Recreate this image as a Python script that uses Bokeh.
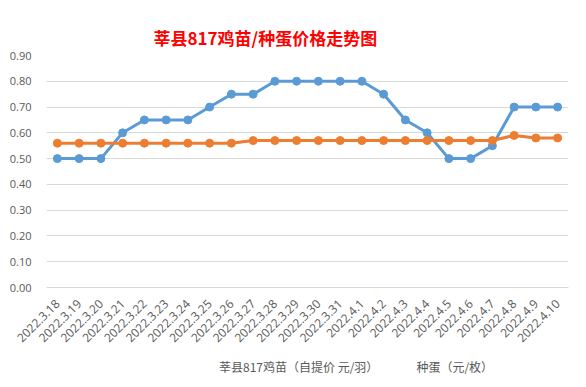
from math import pi
from bokeh.plotting import figure
from bokeh.layouts import column
from bokeh.models import FactorRange, Range1d, Legend, LegendItem, NumeralTickFormatter, FixedTicker
from bokeh.embed import file_html
from bokeh.resources import INLINE

dates = ["2022.3.18", "2022.3.19", "2022.3.20", "2022.3.21", "2022.3.22", "2022.3.23",
         "2022.3.24", "2022.3.25", "2022.3.26", "2022.3.27", "2022.3.28", "2022.3.29",
         "2022.3.30", "2022.3.31", "2022.4.1", "2022.4.2", "2022.4.3", "2022.4.4",
         "2022.4.5", "2022.4.6", "2022.4.7", "2022.4.8", "2022.4.9", "2022.4.10"]
chick = [0.50, 0.50, 0.50, 0.60, 0.65, 0.65, 0.65, 0.70, 0.75, 0.75, 0.80, 0.80,
         0.80, 0.80, 0.80, 0.75, 0.65, 0.60, 0.50, 0.50, 0.55, 0.70, 0.70, 0.70]
egg = [0.56, 0.56, 0.56, 0.56, 0.56, 0.56, 0.56, 0.56, 0.56, 0.57, 0.57, 0.57,
       0.57, 0.57, 0.57, 0.57, 0.57, 0.57, 0.57, 0.57, 0.57, 0.59, 0.58, 0.58]
y_ticks = [0.0, 0.1, 0.2, 0.3, 0.4, 0.5, 0.6, 0.7, 0.8, 0.9]
title_text = "莘县817鸡苗/种蛋价格走势图"
chick_label = "莘县817鸡苗（自提价 元/羽）"
egg_label = "种蛋（元/枚）"

BLUE = "#5B9BD5"
ORANGE = "#ED7D31"
GRAY = "#595959"
FONT = "Noto Sans CJK SC"
NUMFONT = "Open Sans"

p = figure(width=578, height=352,
           x_range=FactorRange(*dates), y_range=Range1d(0, 0.9),
           output_backend="svg", toolbar_location=None,
           min_border_left=46, min_border_right=10, min_border_top=55, min_border_bottom=65)

p.title.text = title_text
p.title.align = "left"
p.title.offset = 107
p.title.text_color = "#FF0000"
p.title.text_font = FONT
p.title.text_font_size = "17px"
p.title.text_font_style = "bold"
p.title.standoff = 12

p.outline_line_color = None
p.background_fill_color = "white"
p.border_fill_color = "white"

p.xgrid.grid_line_color = None
p.ygrid.grid_line_color = "#D9D9D9"
p.ygrid.grid_line_width = 1

p.yaxis.ticker = FixedTicker(ticks=y_ticks)
p.yaxis.formatter = NumeralTickFormatter(format="0.00")
p.yaxis.axis_line_color = None
p.yaxis.major_tick_line_color = None
p.yaxis.minor_tick_line_color = None
p.yaxis.major_label_text_color = GRAY
p.yaxis.major_label_text_font = NUMFONT
p.yaxis.major_label_text_font_size = "11px"
p.yaxis.major_label_standoff = 9

p.xaxis.axis_line_color = "#D9D9D9"
p.xaxis.major_tick_line_color = None
p.xaxis.minor_tick_line_color = None
p.xaxis.major_label_orientation = pi / 4
p.xaxis.major_label_text_color = GRAY
p.xaxis.major_label_text_font = NUMFONT
p.xaxis.major_label_text_font_size = "12px"
p.xaxis.major_label_standoff = 8

p.line(dates, chick, line_color=BLUE, line_width=3)
p.scatter(dates, chick, size=8, fill_color=BLUE, line_color=BLUE)
p.line(dates, egg, line_color=ORANGE, line_width=3)
p.scatter(dates, egg, size=8, fill_color=ORANGE, line_color=ORANGE)

# legend strip below the chart
lg = figure(width=578, height=25, x_range=Range1d(0, 1), y_range=Range1d(0, 1),
            x_axis_type=None, y_axis_type=None,
            output_backend="svg", toolbar_location=None,
            min_border_left=0, min_border_right=0, min_border_top=0, min_border_bottom=0)
lg.outline_line_color = None
lg.xgrid.grid_line_color = None
lg.ygrid.grid_line_color = None
lg.background_fill_color = "white"
lg.border_fill_color = "white"
k1 = lg.line(x=[], y=[], line_color=BLUE, line_width=3)
k2 = lg.scatter(x=[], y=[], size=8, fill_color=BLUE, line_color=BLUE)
k3 = lg.line(x=[], y=[], line_color=ORANGE, line_width=3)
k4 = lg.scatter(x=[], y=[], size=8, fill_color=ORANGE, line_color=ORANGE)

legend = Legend(items=[LegendItem(label=chick_label, renderers=[k1, k2]),
                       LegendItem(label=egg_label, renderers=[k3, k4])],
                orientation="horizontal", location=(143, 2),
                label_text_font=FONT, label_text_font_size="12px",
                label_text_color=GRAY, border_line_color=None,
                background_fill_alpha=0,
                glyph_width=28, glyph_height=16, label_height=16,
                label_standoff=2, spacing=8,
                margin=0, padding=2)
lg.add_layout(legend, "center")

layout = column(p, lg, spacing=0)
open("out.html", "w").write(file_html(layout, INLINE))
